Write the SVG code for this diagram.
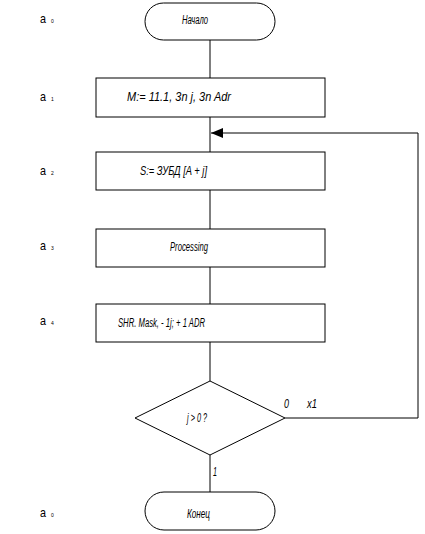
<svg xmlns="http://www.w3.org/2000/svg" width="425" height="534" viewBox="0 0 425 534">
<style>
.s{fill:#fff;stroke:#000;stroke-width:1}
.c{fill:none;stroke:#000;stroke-width:1}
.t{font-family:"Liberation Sans",Arial,sans-serif;font-style:italic;font-size:12px;fill:#000}
.a{font-family:"Liberation Sans",Arial,sans-serif;font-size:13px;fill:#000}
.sub{font-family:"Liberation Sans",Arial,sans-serif;font-size:5px;fill:#000}
</style>
<defs>
<marker id="ah" markerWidth="12" markerHeight="10" refX="12" refY="5" orient="auto" markerUnits="userSpaceOnUse">
<path d="M0,0 L12,5 L0,10 Z" fill="#000"/>
</marker>
</defs>
<rect width="425" height="534" fill="#fff"/>
<g id="connectors">
<line class="c" x1="210" y1="40" x2="210" y2="78"/>
<line class="c" x1="210" y1="117" x2="210" y2="152"/>
<line class="c" x1="210" y1="190" x2="210" y2="229"/>
<line class="c" x1="210" y1="267" x2="210" y2="304"/>
<line class="c" x1="210" y1="342" x2="210" y2="381"/>
<line class="c" x1="210" y1="455" x2="210" y2="492"/>
<polyline class="c" points="285,418 418,418 418,133 211,133" marker-end="url(#ah)"/>
<text class="t" x="284" y="408" textLength="5" lengthAdjust="spacingAndGlyphs">0</text>
<text class="t" x="307" y="408" textLength="10" lengthAdjust="spacingAndGlyphs">x1</text>
<text class="t" x="213" y="476" textLength="4" lengthAdjust="spacingAndGlyphs">1</text>
</g>
<g id="labels">
<text class="a" x="40" y="23" textLength="6" lengthAdjust="spacingAndGlyphs">a</text><text class="sub" x="51" y="23">0</text>
<text class="a" x="40" y="101" textLength="6" lengthAdjust="spacingAndGlyphs">a</text><text class="sub" x="51" y="101">1</text>
<text class="a" x="40" y="175" textLength="6" lengthAdjust="spacingAndGlyphs">a</text><text class="sub" x="51" y="175">2</text>
<text class="a" x="40" y="250" textLength="6" lengthAdjust="spacingAndGlyphs">a</text><text class="sub" x="51" y="250">3</text>
<text class="a" x="40" y="325" textLength="6" lengthAdjust="spacingAndGlyphs">a</text><text class="sub" x="51" y="325">4</text>
<text class="a" x="40" y="517" textLength="6" lengthAdjust="spacingAndGlyphs">a</text><text class="sub" x="51" y="517">0</text>
</g>
<g id="start">
<rect class="s" x="145" y="3" width="130" height="37" rx="18.5" ry="18.5"/>
<text class="t" x="182" y="24" textLength="26" lengthAdjust="spacingAndGlyphs">Начало</text>
</g>
<g id="n1">
<rect class="s" x="96" y="78" width="229" height="39"/>
<text class="t" x="127" y="101" textLength="104" lengthAdjust="spacingAndGlyphs">M:= 11.1, 3n j, 3n Adr</text>
</g>
<g id="n2">
<rect class="s" x="96" y="152" width="229" height="38"/>
<text class="t" x="140" y="175" textLength="67" lengthAdjust="spacingAndGlyphs">S:= ЗУБД [A + j]</text>
</g>
<g id="n3">
<rect class="s" x="96" y="229" width="229" height="38"/>
<text class="t" x="170" y="251" textLength="38" lengthAdjust="spacingAndGlyphs">Processing</text>
</g>
<g id="n4">
<rect class="s" x="96" y="304" width="229" height="38"/>
<text class="t" x="118" y="327" textLength="87" lengthAdjust="spacingAndGlyphs">SHR. Mask, - 1j; + 1 ADR</text>
</g>
<g id="decision">
<polygon class="s" points="210,381 285,418 210,455 135,418"/>
<text class="t" x="187" y="422" textLength="20" lengthAdjust="spacingAndGlyphs">j &gt; 0 ?</text>
</g>
<g id="end">
<rect class="s" x="145" y="492" width="130" height="38" rx="19" ry="19"/>
<text class="t" x="187" y="518" textLength="23" lengthAdjust="spacingAndGlyphs">Конец</text>
</g>
</svg>
